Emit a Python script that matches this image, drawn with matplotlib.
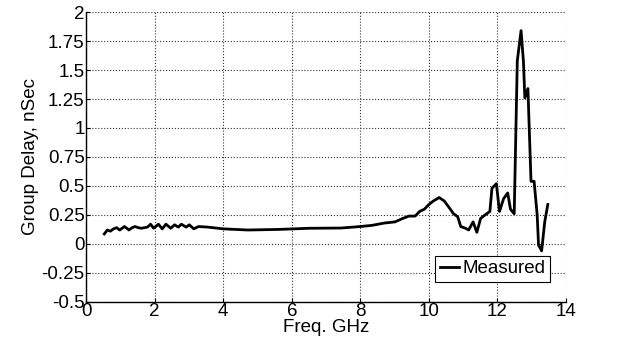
import matplotlib
matplotlib.use("Agg")
import matplotlib.pyplot as plt

freq = [0.53, 0.62, 0.71, 0.80, 0.89, 0.98, 1.12, 1.25, 1.34, 1.43, 1.52, 1.61, 1.70, 1.79, 1.88, 1.97,
        2.11, 2.22, 2.33, 2.47, 2.58, 2.69, 2.78, 2.92, 3.01, 3.14, 3.28, 3.55, 4.0, 4.72, 5.62, 6.52,
        7.44, 8.0, 8.34, 8.70, 9.01, 9.24, 9.42, 9.60, 9.73, 9.87, 10.0, 10.13, 10.30, 10.45, 10.60,
        10.72, 10.84, 10.93, 11.07, 11.16, 11.29, 11.40, 11.51, 11.64, 11.78, 11.84, 11.97, 12.06,
        12.18, 12.30, 12.38, 12.49, 12.58, 12.69, 12.76, 12.80, 12.89, 12.98, 13.07, 13.16, 13.20,
        13.29, 13.38, 13.47]
delay = [0.086, 0.12, 0.11, 0.13, 0.14, 0.12, 0.15, 0.12, 0.14, 0.15, 0.14, 0.135, 0.14, 0.145, 0.17, 0.135,
         0.17, 0.13, 0.17, 0.135, 0.165, 0.145, 0.17, 0.145, 0.165, 0.13, 0.15, 0.145, 0.13, 0.12, 0.125, 0.135,
         0.137, 0.15, 0.16, 0.18, 0.19, 0.22, 0.24, 0.24, 0.28, 0.30, 0.34, 0.37, 0.40, 0.37, 0.31,
         0.26, 0.235, 0.15, 0.135, 0.12, 0.19, 0.10, 0.22, 0.25, 0.28, 0.48, 0.52, 0.28,
         0.39, 0.44, 0.30, 0.26, 1.58, 1.84, 1.57, 1.26, 1.34, 0.54, 0.54, 0.25, -0.01,
         -0.06, 0.19, 0.34]

xticks = [0, 2, 4, 6, 8, 10, 12, 14]
yticks = [-0.5, -0.25, 0, 0.25, 0.5, 0.75, 1, 1.25, 1.5, 1.75, 2]
ytick_labels = ["-0.5", "-0.25", "0", "0.25", "0.5", "0.75", "1", "1.25", "1.5", "1.75", "2"]

plt.rcParams['font.family'] = ['Liberation Sans', 'DejaVu Sans']
fs = 13.5
fig = plt.figure(figsize=(6.24, 3.45), dpi=100)
ax = fig.add_axes([0.138, 0.125, 0.769, 0.84])
ax.plot(freq, delay, color='black', linewidth=2.0, label='Measured')
ax.set_xlim(0, 14)
ax.set_ylim(-0.5, 2)
ax.set_xticks(xticks)
ax.set_yticks(yticks)
ax.set_yticklabels(ytick_labels)
ax.tick_params(direction='in', labelsize=fs, length=3, pad=1)
ax.grid(True, linestyle=':', color='#333333', linewidth=0.8)
for s in ['top', 'right']:
    ax.spines[s].set_visible(False)
for s in ['left', 'bottom']:
    ax.spines[s].set_linewidth(1.0)
ax.set_xlabel('Freq. GHz', fontsize=fs, labelpad=-1)
ax.set_ylabel('Group Delay, nSec', fontsize=fs, labelpad=2)
leg = ax.legend(loc='lower right', bbox_to_anchor=(0.975, 0.055), fontsize=fs, frameon=True,
                fancybox=False, edgecolor='black', handlelength=1.0, handletextpad=0.2,
                borderpad=0.25, borderaxespad=0.2, framealpha=1)
leg.get_frame().set_linewidth(0.8)
fig.savefig('out.png', dpi=100)
